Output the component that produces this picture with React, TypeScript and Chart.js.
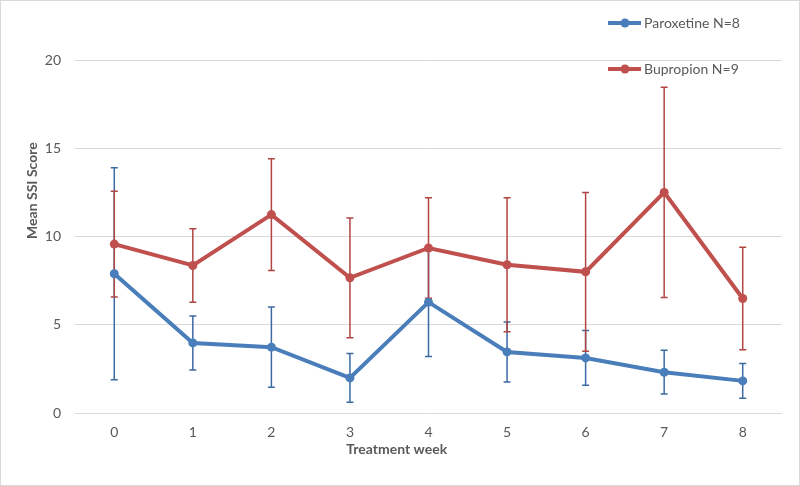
import React, { useEffect, useRef } from "react";
import Chart from "chart.js/auto";

const weeks = ["0", "1", "2", "3", "4", "5", "6", "7", "8"];

const paroxetineMean = [7.89, 3.97, 3.73, 1.99, 6.28, 3.46, 3.12, 2.31, 1.82];
const paroxetineErr = [6.0, 1.53, 2.27, 1.38, 3.08, 1.7, 1.55, 1.24, 0.98];

const bupropionMean = [9.57, 8.36, 11.24, 7.66, 9.35, 8.4, 8.0, 12.5, 6.49];
const bupropionErr = [3.0, 2.08, 3.17, 3.39, 2.85, 3.8, 4.5, 5.95, 2.9];

const seriesNames = ["Paroxetine N=8", "Bupropion N=9"];
const seriesColors = ["#4a7ebb", "#c0504d"];
const errorColors = ["#3c6aa3", "#b04542"];

const FONT = "Lato, 'Noto Sans', sans-serif";
const TEXT = "#595959";

// all error bars go under the lines and markers, as in the original
const errorBarPlugin = {
  id: "errorBars",
  beforeDatasetsDraw(chart: any) {
    const yScale = chart.scales.y;
    const ctx = chart.ctx;
    chart.data.datasets.forEach((ds: any, i: number) => {
      if (!ds.errors) return;
      const meta = chart.getDatasetMeta(i);
      ctx.save();
      ctx.strokeStyle = errorColors[i];
      ctx.lineWidth = 1.5;
      meta.data.forEach((pt: any, j: number) => {
        const v = ds.data[j];
        const e = ds.errors[j];
        const top = yScale.getPixelForValue(v + e);
        const bot = yScale.getPixelForValue(v - e);
        ctx.beginPath();
        ctx.moveTo(pt.x, top);
        ctx.lineTo(pt.x, bot);
        ctx.moveTo(pt.x - 3.5, top);
        ctx.lineTo(pt.x + 3.5, top);
        ctx.moveTo(pt.x - 3.5, bot);
        ctx.lineTo(pt.x + 3.5, bot);
        ctx.stroke();
      });
      ctx.restore();
    });
  },
};

// frame, axis titles and the floating legend
const decorPlugin = {
  id: "decor",
  beforeDraw(chart: any) {
    const ctx = chart.ctx;
    ctx.save();
    ctx.fillStyle = "#ffffff";
    ctx.fillRect(0, 0, chart.width, chart.height);
    ctx.strokeStyle = "#d9d9d9";
    ctx.lineWidth = 1;
    ctx.strokeRect(0.5, 0.5, chart.width - 1, chart.height - 1);
    ctx.restore();
  },
  afterDraw(chart: any) {
    const ctx = chart.ctx;
    const area = chart.chartArea;
    ctx.save();
    ctx.fillStyle = TEXT;
    ctx.font = `bold 14px ${FONT}`;
    ctx.textAlign = "center";
    ctx.textBaseline = "middle";
    ctx.fillText("Treatment week", area.left + (area.right - area.left) * 0.455, area.bottom + 36);
    ctx.translate(32, area.top + (area.bottom - area.top) * 0.37);
    ctx.rotate(-Math.PI / 2);
    ctx.fillText("Mean SSI Score", 0, 0);
    ctx.restore();

    ctx.save();
    ctx.font = `14px ${FONT}`;
    ctx.textAlign = "left";
    ctx.textBaseline = "middle";
    seriesNames.forEach((name, i) => {
      const y = 23 + i * 46;
      const x = 608;
      ctx.strokeStyle = seriesColors[i];
      ctx.lineWidth = 4;
      ctx.beginPath();
      ctx.moveTo(x, y);
      ctx.lineTo(x + 33, y);
      ctx.stroke();
      ctx.fillStyle = seriesColors[i];
      ctx.beginPath();
      ctx.arc(x + 17, y, 4.5, 0, Math.PI * 2);
      ctx.fill();
      ctx.fillStyle = TEXT;
      ctx.fillText(name, x + 36, y);
    });
    ctx.restore();
  },
};

export default function App() {
  const canvasRef = useRef<HTMLCanvasElement>(null);
  const chartRef = useRef<Chart | null>(null);

  useEffect(() => {
    document.body.style.margin = "0";
    if (!canvasRef.current) return;
    if (chartRef.current) chartRef.current.destroy();

    const makeSet = (i: number, data: number[], errors: number[]) => ({
      label: seriesNames[i],
      data,
      errors,
      borderColor: seriesColors[i],
      backgroundColor: seriesColors[i],
      pointBackgroundColor: seriesColors[i],
      pointBorderColor: seriesColors[i],
      borderWidth: 4,
      pointRadius: 4.5,
      pointBorderWidth: 0,
      tension: 0,
      fill: false,
    });

    chartRef.current = new Chart(canvasRef.current, {
      type: "line",
      data: {
        labels: weeks,
        // Paroxetine first, so Bupropion is drawn on top of it
        datasets: [
          makeSet(0, paroxetineMean, paroxetineErr),
          makeSet(1, bupropionMean, bupropionErr),
        ] as any,
      },
      options: {
        responsive: false,
        animation: false,
        layout: { padding: { top: 60, right: 18, left: 0, bottom: 0 } },
        plugins: {
          legend: { display: false },
          tooltip: { enabled: false },
        },
        scales: {
          x: {
            offset: true,
            grid: { display: false, drawTicks: false },
            border: { display: false },
            ticks: {
              color: TEXT,
              font: { family: FONT, size: 14 },
              padding: 11,
            },
            afterFit: (s: any) => {
              s.height = 73;
            },
          },
          y: {
            min: 0,
            max: 20,
            grid: { color: "#d9d9d9", lineWidth: 1, drawTicks: false },
            border: { display: false },
            ticks: {
              stepSize: 5,
              color: TEXT,
              font: { family: FONT, size: 14 },
              padding: 14,
            },
            afterFit: (s: any) => {
              s.width = 75;
            },
          },
        },
      },
      plugins: [errorBarPlugin, decorPlugin],
    });

    return () => {
      if (chartRef.current) {
        chartRef.current.destroy();
        chartRef.current = null;
      }
    };
  }, []);

  return (
    <div style={{ width: 800, height: 486 }}>
      <canvas ref={canvasRef} width={800} height={486}></canvas>
    </div>
  );
}
